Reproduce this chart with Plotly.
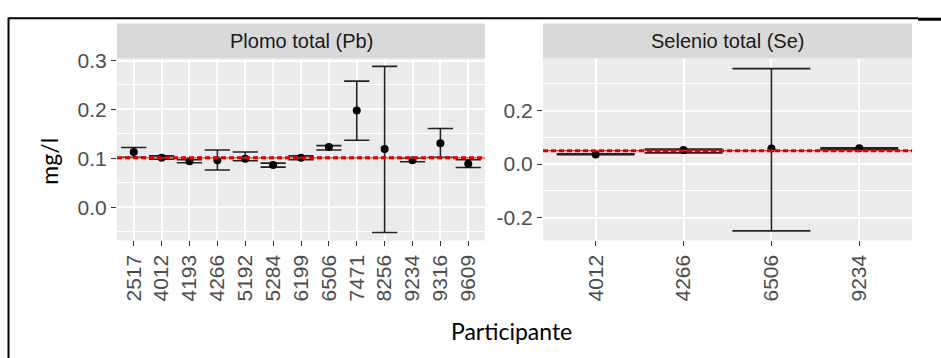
import plotly.graph_objects as go

W, H = 941, 358

# ---- data ----
pb_participants = ['2517', '4012', '4193', '4266', '5192', '5284', '6199',
                   '6506', '7471', '8256', '9234', '9316', '9609']
pb_value = [0.113, 0.101, 0.094, 0.096, 0.099, 0.086, 0.101,
            0.123, 0.198, 0.119, 0.096, 0.131, 0.089]
pb_lower = [0.102, 0.098, 0.091, 0.076, 0.095, 0.082, 0.097,
            0.117, 0.137, -0.052, 0.093, 0.102, 0.081]
pb_upper = [0.122, 0.105, 0.097, 0.117, 0.113, 0.090, 0.105,
            0.126, 0.258, 0.288, 0.100, 0.161, 0.097]
pb_reference = 0.101
pb_yticks = [0.0, 0.1, 0.2, 0.3]
pb_yticklabels = ['0.0', '0.1', '0.2', '0.3']

se_participants = ['4012', '4266', '6506', '9234']
se_value = [0.036, 0.053, 0.058, 0.059]
se_lower = [0.035, 0.042, -0.250, 0.055]
se_upper = [0.038, 0.056, 0.357, 0.061]
se_reference = 0.050
se_yticks = [-0.2, 0.0, 0.2]
se_yticklabels = ['-0.2', '0.0', '0.2']

panel_titles = ['Plomo total (Pb)', 'Selenio total (Se)']
y_title = 'mg/l'
x_title = 'Participante'


def px(x):
    return x / W


def py(y):
    return 1 - y / H


fig = go.Figure()

ERR_COLOR = '#222222'


def add_panel(xa, ya, cats, vals, lo, hi, halfw):
    fig.add_trace(go.Scatter(
        x=cats, y=vals, mode='markers', xaxis=xa, yaxis=ya,
        marker=dict(color='black', size=8),
        error_y=dict(type='data', symmetric=False,
                     array=[h - v for h, v in zip(hi, vals)],
                     arrayminus=[v - l for v, l in zip(vals, lo)],
                     color=ERR_COLOR, thickness=1.6, width=halfw),
        showlegend=False, hoverinfo='skip'))


add_panel('x', 'y', pb_participants, pb_value, pb_lower, pb_upper, 12.6)
add_panel('x2', 'y2', se_participants, se_value, se_lower, se_upper, 39)

tickfont = dict(family='Liberation Sans, Arial', size=21, color='#4D4D4D')

common_x = dict(type='category', tickangle=-90, showgrid=True, gridcolor='white',
                gridwidth=1.8, ticks='outside', ticklen=5, tickcolor='#333333',
                tickwidth=1.2, tickfont=tickfont, zeroline=False, showline=False,
                fixedrange=True)
common_y = dict(showgrid=True, gridcolor='white', gridwidth=1.8, ticks='outside',
                ticklen=5, tickcolor='#333333', tickwidth=1.2, tickfont=tickfont,
                zeroline=False, showline=False, fixedrange=True, tickmode='array')

p1x = [117, 485]
p2x = [543, 912]
p_top, p_bot = 50, 237
strip_top = 14

fig.update_layout(
    width=W, height=H, margin=dict(l=0, r=0, t=0, b=0),
    paper_bgcolor='white', plot_bgcolor='#EBEBEB',
    xaxis=dict(common_x, domain=[px(p1x[0]), px(p1x[1])], anchor='y',
               range=[-0.6, len(pb_participants) - 0.4]),
    yaxis=dict(common_y, domain=[py(p_bot), py(p_top)], anchor='x',
               range=[-0.068, 0.304], tickvals=pb_yticks, ticktext=pb_yticklabels,
               minor=dict(showgrid=True, gridcolor='white', gridwidth=0.9,
                          tickmode='linear', dtick=0.05, tick0=0, ticks='')),
    xaxis2=dict(common_x, domain=[px(p2x[0]), px(p2x[1])], anchor='y2',
                range=[-0.6, len(se_participants) - 0.4]),
    yaxis2=dict(common_y, domain=[py(p_bot), py(p_top)], anchor='x2',
                range=[-0.2855, 0.3945], tickvals=se_yticks, ticktext=se_yticklabels,
                minor=dict(showgrid=True, gridcolor='white', gridwidth=0.9,
                           tickmode='linear', dtick=0.1, tick0=0, ticks='')),
)

shapes = []
# strips
for (x0, x1) in (p1x, p2x):
    shapes.append(dict(type='rect', xref='paper', yref='paper',
                       x0=px(x0), x1=px(x1), y0=py(p_top), y1=py(strip_top),
                       fillcolor='#D9D9D9', line=dict(width=0), layer='below'))
# reference lines
for xr, yr, ref in (('x domain', 'y', pb_reference), ('x2 domain', 'y2', se_reference)):
    shapes.append(dict(type='line', xref=xr, yref=yr, x0=0, x1=1, y0=ref, y1=ref,
                       line=dict(color='#FF3030', width=1.2), layer='above'))
    shapes.append(dict(type='line', xref=xr, yref=yr, x0=0, x1=1, y0=ref, y1=ref,
                       line=dict(color='#E00000', width=3, dash='5px,3px'), layer='above'))
# document border
shapes.append(dict(type='line', xref='paper', yref='paper', x0=px(8.5), x1=px(8.5),
                   y0=py(8), y1=py(358), line=dict(color='black', width=2)))
shapes.append(dict(type='line', xref='paper', yref='paper', x0=px(8), x1=px(918),
                   y0=py(8.5), y1=py(8.5), line=dict(color='black', width=2)))
shapes.append(dict(type='line', xref='paper', yref='paper', x0=px(918), x1=px(941),
                   y0=py(9.5), y1=py(9.5), line=dict(color='black', width=3)))
fig.update_layout(shapes=shapes)

annotations = []
for (x0, x1), title in zip((p1x, p2x), panel_titles):
    annotations.append(dict(text=title, xref='paper', yref='paper',
                            x=px((x0 + x1) / 2), y=py((strip_top + p_top) / 2),
                            xanchor='center', yanchor='middle', showarrow=False,
                            font=dict(family='Liberation Sans, Arial', size=20, color='#1A1A1A')))
annotations.append(dict(text=y_title, xref='paper', yref='paper', x=px(49), y=py(156),
                        xanchor='center', yanchor='middle', showarrow=False, textangle=-90,
                        font=dict(family='Lato, Carlito, sans-serif', size=23, color='black')))
annotations.append(dict(text=x_title, xref='paper', yref='paper', x=px(511), y=py(330),
                        xanchor='center', yanchor='middle', showarrow=False,
                        font=dict(family='Lato, Carlito, sans-serif', size=23, color='black')))
fig.update_layout(annotations=annotations)

fig.write_html('out.html')
